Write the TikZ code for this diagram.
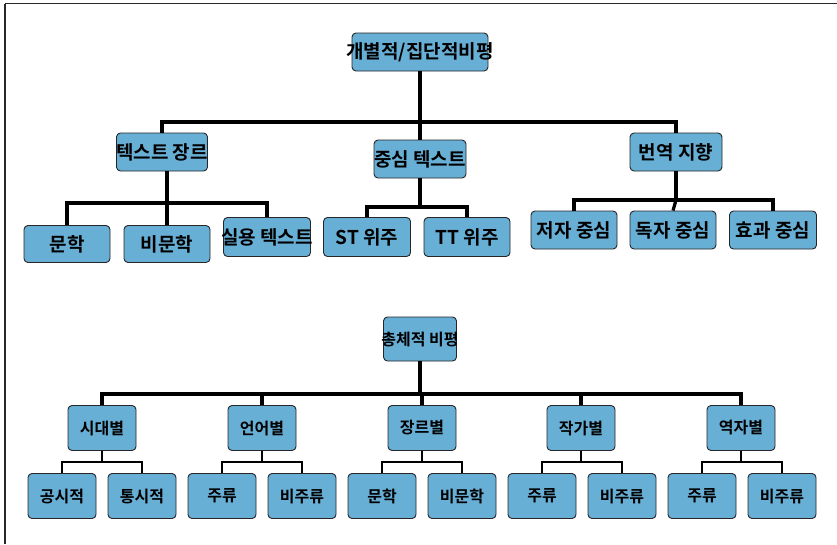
\documentclass[tikz,border=0pt]{standalone}
\usepackage{fontspec}
\newfontfamily\kr{Noto Sans CJK KR}[BoldFont={Noto Sans CJK KR Bold}]
\definecolor{boxblue}{RGB}{104,175,214}
\definecolor{frameg}{RGB}{40,40,40}
\tikzset{
  boxbase/.style={draw=black!85, line width=0.9pt, fill=boxblue, rounded corners=4pt, inner sep=0pt},
  topbox/.style={boxbase, minimum width=#1, minimum height=38pt, font=\kr\bfseries\fontsize{19}{21}\selectfont},
  botbox/.style={boxbase, minimum width=68pt, minimum height=45pt, font=\kr\bfseries\fontsize{16}{18}\selectfont},
  conn/.style={line width=3.2pt, draw=black},
  thin conn/.style={line width=2.6pt, draw=black},
}
\newcommand{\ov}[1]{\makebox[0pt]{#1}}
\begin{document}
\begin{tikzpicture}[x=1pt,y=-1pt]
\useasboundingbox (0,0) rectangle (837,544);
% frame
\draw[frameg, line width=1.4pt] (5,3.5) -- (837,3.5);
\draw[frameg, line width=1.4pt] (5,3.5) -- (5,544);

% ===== top tree =====
\node[topbox=136pt] (top) at (420,52) {\ov{개별적/집단적비평}};
\node[topbox=91pt] (g1) at (162,152) {\ov{텍스트 장르}};
\node[topbox=92pt] (g2) at (420,159) {\ov{중심 텍스트}};
\node[topbox=92pt] (g3) at (676,152) {\ov{번역 지향}};

\node[topbox=86pt, minimum height=37pt] (a1) at (67,244) {\ov{문학}};
\node[topbox=86pt, minimum height=37pt] (a2) at (167,244) {\ov{비문학}};
\node[topbox=87pt, minimum height=39pt] (a3) at (267,237) {\ov{실용 텍스트}};
\node[topbox=87pt, minimum height=39pt] (b1) at (367,237) {\ov{ST 위주}};
\node[topbox=86pt, minimum height=39pt] (b2) at (467,237) {\ov{TT 위주}};
\node[topbox=86pt] (c1) at (574,230) {\ov{저자 중심}};
\node[topbox=86pt] (c2) at (673,230) {\ov{독자 중심}};
\node[topbox=87pt] (c3) at (773,230) {\ov{효과 중심}};

\coordinate (bus0) at (420,122);
\coordinate (busA) at (167,203);
\coordinate (busB) at (420,207);
\coordinate (busC) at (676,200);

\draw[conn] (top.south) -- (g2.north);
\draw[conn] (bus0) -| (g1.north);
\draw[conn] (bus0) -| (g3.north);

\draw[conn] (g1.south -| busA) -- (busA) -| (a1.north);
\draw[conn] (busA) -| (a3.north);
\draw[conn] (busA) -- (a2.north);

\draw[conn] (g2.south) -- (busB) -| (b1.north);
\draw[conn] (busB) -| (b2.north);

\draw[conn] (g3.south) -- (busC) -| (c1.north);
\draw[conn] (busC) -| (c3.north);
\draw[conn] (busC) -- (c2.north);

% ===== bottom tree =====
\node[botbox, minimum width=73pt, minimum height=44pt] (root) at (420,339) {\ov{총체적 비평}};
\node[botbox] (p1) at (102,428) {\ov{시대별}};
\node[botbox] (p2) at (262,428) {\ov{언어별}};
\node[botbox] (p3) at (422,428) {\ov{장르별}};
\node[botbox] (p4) at (581,428) {\ov{작가별}};
\node[botbox] (p5) at (741,428) {\ov{역자별}};

\node[botbox] (q1) at (62,496) {\ov{공시적}};
\node[botbox] (q2) at (142,496) {\ov{통시적}};
\node[botbox] (q3) at (222,496) {\ov{주류}};
\node[botbox] (q4) at (302,496) {\ov{비주류}};
\node[botbox] (q5) at (382,496) {\ov{문학}};
\node[botbox] (q6) at (462,496) {\ov{비문학}};
\node[botbox] (q7) at (542,496) {\ov{주류}};
\node[botbox] (q8) at (622,496) {\ov{비주류}};
\node[botbox] (q9) at (702,496) {\ov{주류}};
\node[botbox] (q10) at (782,496) {\ov{비주류}};

\coordinate (bus1) at (420,394);
\draw[conn] (root.south) -- (bus1);
\foreach \p in {p1,p2,p3,p4,p5} {
  \draw[conn] (bus1) -| (\p.north);
}
\foreach \p/\l/\r in {p1/q1/q2, p2/q3/q4, p3/q5/q6, p4/q7/q8, p5/q9/q10} {
  \draw[thin conn] (\p.south) -- ++(0,11) coordinate (m) -| (\l.north);
  \draw[thin conn] (m) -| (\r.north);
}
\end{tikzpicture}
\end{document}
